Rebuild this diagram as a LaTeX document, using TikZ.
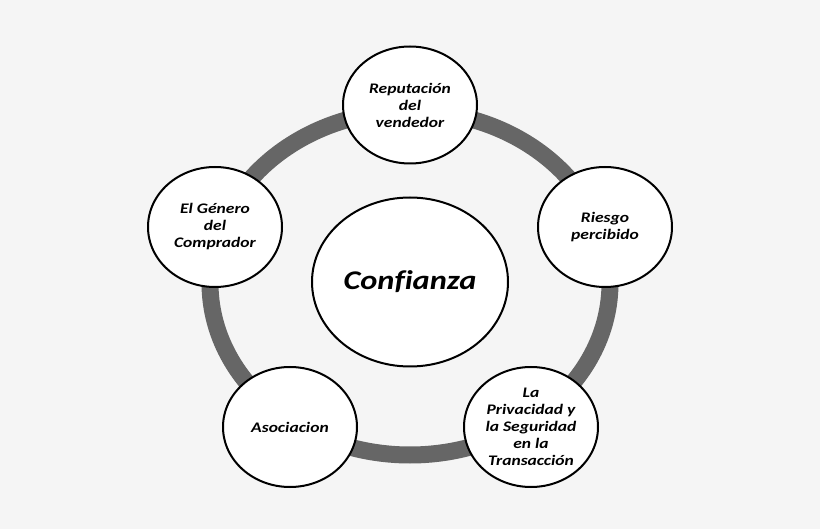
\documentclass[tikz,border=0pt]{standalone}
\usepackage{fontspec}
\setmainfont{Carlito}[FakeStretch=1.2, Ligatures=CommonOff]
\usepackage{xcolor}
\usetikzlibrary{positioning, shapes.geometric}

\definecolor{bggray}{HTML}{F5F5F5}
\definecolor{ringgray}{HTML}{666666}

\begin{document}
\begin{tikzpicture}[
    x=1pt, y=-1pt,
    on grid,
    factor/.style={ellipse, draw, line width=2pt, fill=white, inner sep=0pt,
        minimum width=134pt, minimum height=120pt, align=center,
        font=\fontsize{14.6}{17}\selectfont\bfseries\itshape},
    center/.style={factor, minimum width=196pt, minimum height=169pt,
        font=\fontsize{27}{32}\selectfont\bfseries\itshape},
    ring/.style={draw=ringgray, line width=17pt}
]

% Background
\fill[bggray] (0,0) rectangle (820,529);
\useasboundingbox (0,0) rectangle (820,529);

% Center node
\node[center] (conf) at (410,282) {Confianza};

% Ring behind the factors
\draw[ring] ([yshift=-1pt]conf.center) ellipse [x radius=200pt, y radius=172pt];

% Factors around the ring
\node[factor, above=177pt of conf, minimum height=117pt] (rep) {Reputación\\del\\vendedor};
\node[factor, above right=55pt and 195pt of conf] (riesgo) {Riesgo\\percibido};
\node[factor, below right=145pt and 121pt of conf] (priv) {La\\Privacidad y\\la Seguridad\\en la\\Transacción};
\node[factor, below left=145pt and 120pt of conf] (asoc) {Asociacion};
\node[factor, above left=55pt and 195pt of conf] (genero) {El Género\\del\\Comprador};

\end{tikzpicture}
\end{document}
